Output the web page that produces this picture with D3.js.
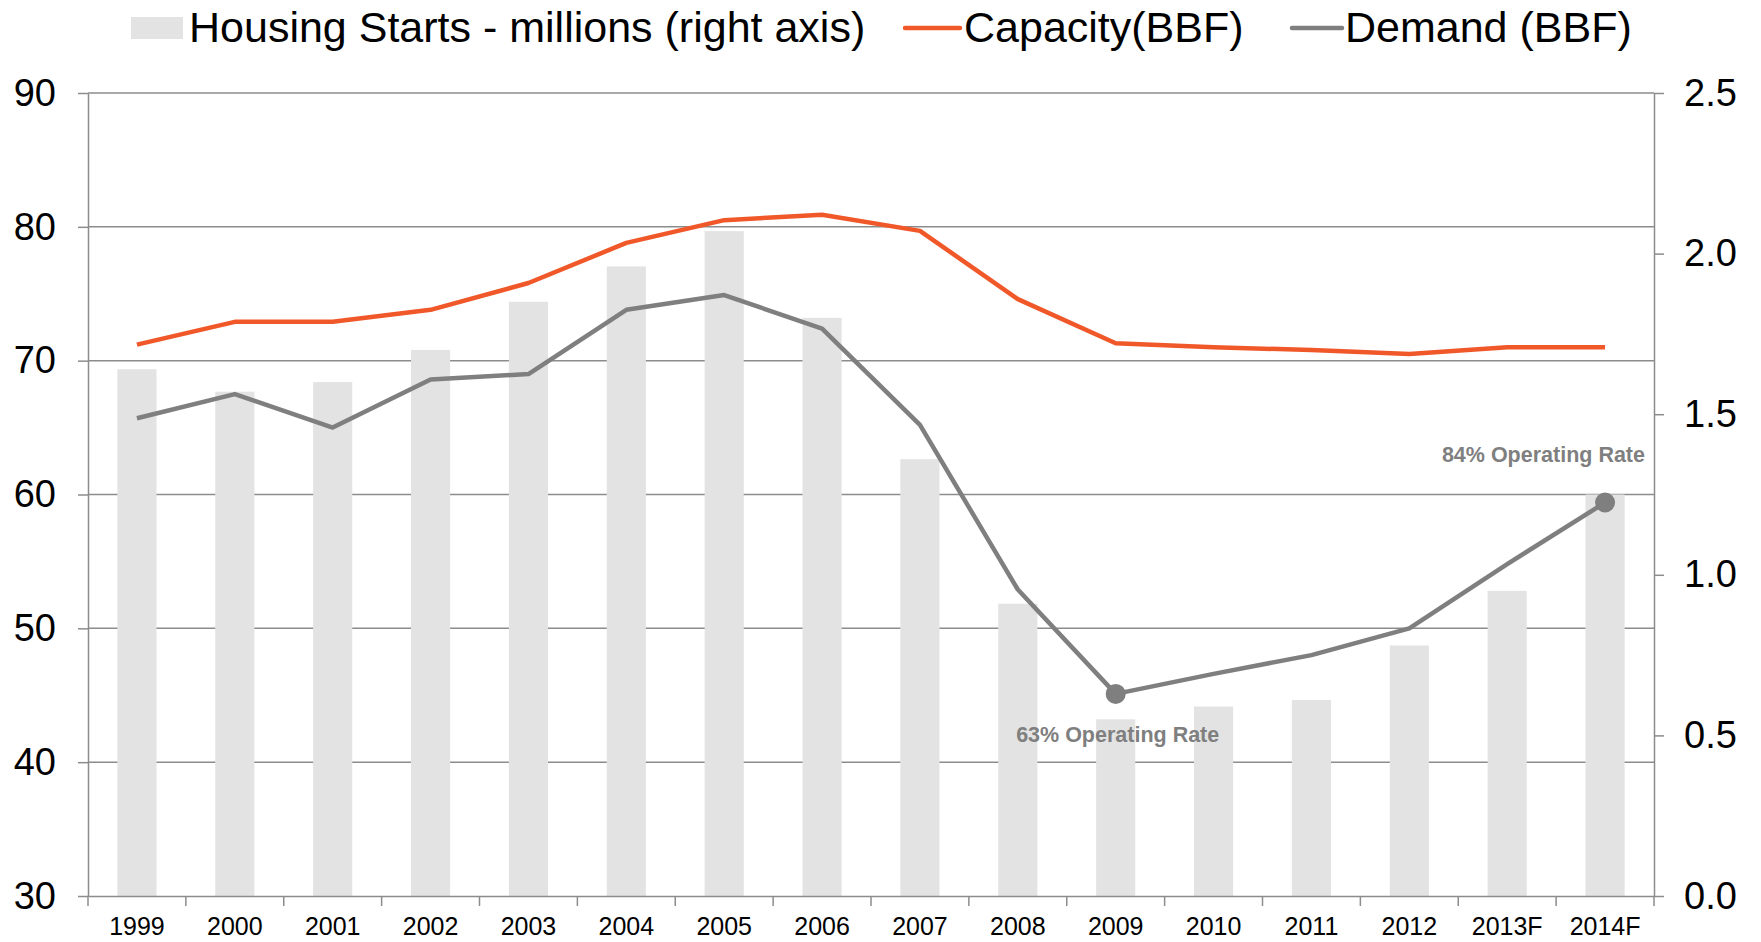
<!DOCTYPE html>
<html>
<head>
<meta charset="utf-8">
<script src="https://cdn.jsdelivr.net/npm/d3@7"></script>
<style>
  body { margin: 0; background: #fff; }
  svg text { font-family: "Liberation Sans", Arial, sans-serif; fill: #000; }
  .note { font-weight: bold; fill: #7f7f7f !important; }
</style>
</head>
<body>
<svg id="chart"></svg>
<script>
// Data
const years = ['1999', '2000', '2001', '2002', '2003', '2004', '2005', '2006', '2007', '2008', '2009', '2010', '2011', '2012', '2013F', '2014F'];
const housingStarts = [1.64, 1.57, 1.60, 1.70, 1.85, 1.96, 2.07, 1.80, 1.36, 0.91, 0.55, 0.59, 0.61, 0.78, 0.95, 1.25];
const capacity = [71.2, 72.9, 72.9, 73.8, 75.8, 78.8, 80.5, 80.9, 79.7, 74.6, 71.3, 71.0, 70.8, 70.5, 71.0, 71.0];
const demand = [65.7, 67.5, 65.0, 68.6, 69.0, 73.8, 74.9, 72.4, 65.2, 52.9, 45.1, 46.6, 48.0, 50.0, 54.8, 59.4];
const leftTicks = [30, 40, 50, 60, 70, 80, 90];
const rightTicks = [0, 0.5, 1.0, 1.5, 2.0, 2.5];
const notes = [
    { year: '2009', label: '63% Operating Rate' },
    { year: '2014F', label: '84% Operating Rate' }
];

const width = 1761, height = 942;
const margin = { top: 93, right: 107, bottom: 46, left: 88 };
const w = width - margin.left - margin.right;
const h = height - margin.top - margin.bottom;

const svg = d3.select('#chart').attr('width', width).attr('height', height);
const g = svg.append('g').attr('transform', `translate(${margin.left},${margin.top})`);

const x = d3.scaleBand().domain(years).range([0, w]);
const yLeft = d3.scaleLinear().domain([30, 90]).range([h, 0]);
const yRight = d3.scaleLinear().domain([0, 2.5]).range([h, 0]);

// Gridlines
g.append('g').selectAll('line')
    .data(leftTicks.slice(1))
    .join('line')
    .attr('x1', 0).attr('x2', w)
    .attr('y1', d => yLeft(d)).attr('y2', d => yLeft(d))
    .attr('stroke', '#8c8c8c').attr('stroke-width', 1.5);

// Bars (right axis)
const barW = x.bandwidth() * 0.4;
g.append('g').selectAll('rect')
    .data(years)
    .join('rect')
    .attr('x', d => x(d) + (x.bandwidth() - barW) / 2)
    .attr('y', (d, i) => yRight(housingStarts[i]))
    .attr('width', barW)
    .attr('height', (d, i) => h - yRight(housingStarts[i]))
    .attr('fill', '#e3e3e3');

// Lines
const line = d3.line()
    .x((d, i) => x(years[i]) + x.bandwidth() / 2)
    .y(d => yLeft(d));

g.append('path').datum(capacity)
    .attr('d', line).attr('fill', 'none')
    .attr('stroke', '#f0582a').attr('stroke-width', 4.5).attr('stroke-linejoin', 'round');

g.append('path').datum(demand)
    .attr('d', line).attr('fill', 'none')
    .attr('stroke', '#7f7f7f').attr('stroke-width', 4.5).attr('stroke-linejoin', 'round');

// Highlighted points
g.append('g').selectAll('circle')
    .data(notes)
    .join('circle')
    .attr('cx', d => x(d.year) + x.bandwidth() / 2)
    .attr('cy', d => yLeft(demand[years.indexOf(d.year)]))
    .attr('r', 10)
    .attr('fill', '#7f7f7f');

g.append('text').attr('class', 'note')
    .attr('x', x('2009') + x.bandwidth() / 2 + 2)
    .attr('y', yLeft(demand[years.indexOf('2009')]) + 48)
    .attr('text-anchor', 'middle')
    .style('font-size', '21.5px')
    .text(notes[0].label);

g.append('text').attr('class', 'note')
    .attr('x', w - 9)
    .attr('y', yLeft(demand[years.indexOf('2014F')]) - 41)
    .attr('text-anchor', 'end')
    .style('font-size', '21.5px')
    .text(notes[1].label);

// Axes
const leftAxis = d3.axisLeft(yLeft).tickValues(leftTicks).tickSize(10).tickPadding(22).tickSizeOuter(0);
const rightAxis = d3.axisRight(yRight).tickValues(rightTicks).tickSize(10).tickPadding(20)
    .tickFormat(d3.format('.1f')).tickSizeOuter(0);
const bottomAxis = d3.axisBottom(x).tickSize(0).tickPadding(21).tickSizeOuter(0);

function styleAxis(sel, fontSize) {
    sel.select('.domain').attr('stroke', '#8c8c8c').attr('stroke-width', 1.5);
    sel.selectAll('.tick line').attr('stroke', '#8c8c8c').attr('stroke-width', 1.5);
    sel.selectAll('.tick text').style('font-size', fontSize).attr('fill', '#000');
}

g.append('g').call(leftAxis).call(s => styleAxis(s, '38px'));
g.append('g').attr('transform', `translate(${w},0)`).call(rightAxis).call(s => styleAxis(s, '38px'));
const xAxisG = g.append('g').attr('transform', `translate(0,${h})`).call(bottomAxis).call(s => styleAxis(s, '25px'));

// Category boundary ticks
xAxisG.selectAll('.bound')
    .data(years.concat(['end']))
    .join('line')
    .attr('x1', (d, i) => i < years.length ? x(d) : w)
    .attr('x2', (d, i) => i < years.length ? x(d) : w)
    .attr('y1', 0).attr('y2', 10)
    .attr('stroke', '#8c8c8c').attr('stroke-width', 1.5);

// Legend
const legend = svg.append('g');
legend.append('rect').attr('x', 131).attr('y', 17).attr('width', 52).attr('height', 22).attr('fill', '#e3e3e3');
legend.append('text').attr('x', 189).attr('y', 42).style('font-size', '43px').text('Housing Starts - millions (right axis)');

legend.append('line').attr('x1', 905).attr('x2', 960).attr('y1', 28).attr('y2', 28)
    .attr('stroke', '#f0582a').attr('stroke-width', 4.5).attr('stroke-linecap', 'round');
legend.append('text').attr('x', 964).attr('y', 42).style('font-size', '43px').text('Capacity(BBF)');

legend.append('line').attr('x1', 1292).attr('x2', 1342).attr('y1', 28).attr('y2', 28)
    .attr('stroke', '#7f7f7f').attr('stroke-width', 4.5).attr('stroke-linecap', 'round');
legend.append('text').attr('x', 1345).attr('y', 42).style('font-size', '43px').text('Demand (BBF)');
</script>
</body>
</html>
